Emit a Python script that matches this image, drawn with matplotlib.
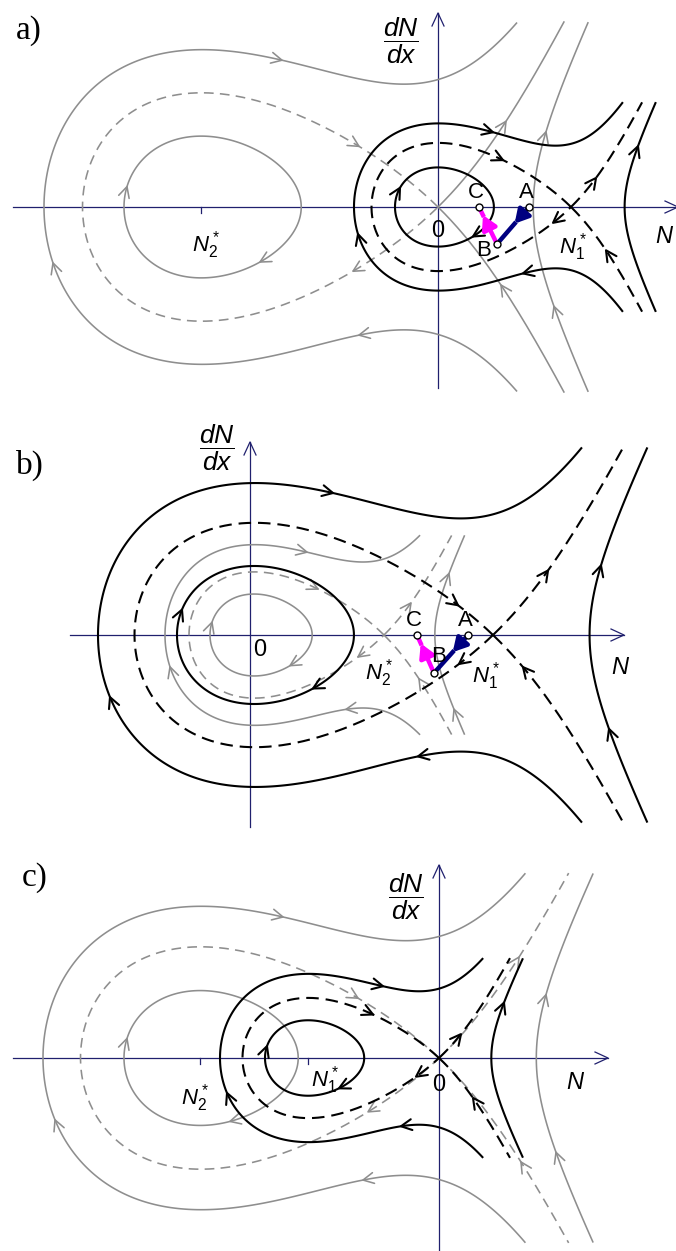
import numpy as np
import matplotlib
matplotlib.use('Agg')
import matplotlib.pyplot as plt

plt.rcParams['font.family'] = ['Liberation Sans', 'DejaVu Sans']
plt.rcParams['mathtext.fontset'] = 'custom'
plt.rcParams['mathtext.rm'] = 'Liberation Sans'
plt.rcParams['mathtext.it'] = 'Liberation Sans:italic'
plt.rcParams['lines.scale_dashes'] = False

W, H = 676, 1251

# ---- the two systems in every panel (a, b, c); N and dN/dx in plot units ----
black_centre = [0, 4, -131]
black_saddle = [133, 243, 0]
black_loop_h = [64, 112, 60]        # height of the separatrix loop above the centre
black_inner = [-43, -73, -174]      # N where the inner orbit meets the axis
black_outer = [-84, -152, -219]     # N where the outer orbit meets the axis
black_clip = [105, 188, 100]        # |dN/dx| where the trajectories stop

gray_centre = [-237, 4, -239]
gray_saddle = [0, 134, 0]
gray_loop_h = [114, 63, 111]
gray_inner = [-314, -40, -315]
gray_outer = [-394, -85, -396]
gray_clip = [185, 100, 185]

# direction marks: (N, orbit: 0 inner / 1 separatrix / 2 outer, sign of dN/dx)
marks_black_a = [(55, 2, 1), (-80, 2, -1), (85, 2, -1), (65, 1, 1), (115, 1, -1),
                 (-38, 0, 1), (35, 0, -1), (158, 1, 1), (168, 1, -1), (200, 0, 1)]
marks_gray_a = [(-156, 2, 1), (-311, 0, 1), (-178, 0, -1), (-385, 2, -1), (-79, 1, 1),
                (-85, 1, -1), (68, 1, 1), (63, 1, -1), (108, 0, 1), (116, 0, -1), (-79, 2, -1)]
marks_black_b = [(83, 2, 1), (-140, 2, -1), (168, 2, -1), (208, 1, 1), (209, 1, -1),
                 (-68, 0, 1), (63, 0, -1), (298, 1, 1), (273, 1, -1), (351, 0, 1), (359, 0, -1)]
marks_gray_b = [(57, 2, 1), (-80, 2, -1), (96, 2, -1), (68, 1, 1), (108, 1, -1),
                (-38, 0, 1), (40, 0, -1), (161, 1, 1), (169, 1, -1), (199, 0, 1), (204, 0, -1)]
marks_black_c = [(-56, 2, 1), (-212, 2, -1), (-38, 2, -1), (-66, 1, 1), (-23, 1, -1),
                 (-172, 0, 1), (-100, 0, -1), (22, 1, 1), (34, 1, -1), (65, 0, 1)]
marks_gray_c = [(-156, 2, 1), (-384, 2, -1), (-76, 2, -1), (-312, 0, 1), (-209, 0, -1),
                (-81, 1, 1), (-71, 1, -1), (80, 1, 1), (82, 1, -1), (107, 0, 1), (117, 0, -1)]

# points A, B, C of the transition (panels a and b)
abc_N = [[91, 59, 41], [218, 184, 167]]
abc_P = [[0, -37, 0], [0, -38, 0]]

BLACK = 'black'
GRAY = '#8e8e8e'
AXIS = '#20206e'
STRETCH = 0.6     # extra vertical opening of the sketch beyond the saddle


def chevron(ax, x, y, d, color, lw, z, size=12, spread=27):
    pts = []
    for sg in (1, -1):
        ang = np.radians(sg * spread)
        bx, by = -d[0], -d[1]
        wx = bx * np.cos(ang) - by * np.sin(ang)
        wy = bx * np.sin(ang) + by * np.cos(ang)
        pts.append((x + size * wx, y + size * wy))
    ax.plot([pts[0][0], x, pts[1][0]], [pts[0][1], y, pts[1][1]],
            color=color, lw=lw, zorder=z, solid_capstyle='round')


def draw_system(ax, c, s, h, inner, outer, clip, marks, color, lw, dash, z,
                solid_branches=False):
    d_cs = s - c
    a = 3.0 * h ** 2 / d_cs ** 3
    L = 0.2 * d_cs
    shift = 0.17 * d_cs

    def V(n):
        return -a * (n ** 3 / 3 - (c + s) * n ** 2 / 2 + c * s * n)

    def F(n):
        return a * (n - c) * (n - s)

    def sig(n):
        return 1.0 / (1.0 + np.exp(-(n - s - shift) / L))

    def m(n):
        return 1 + STRETCH * sig(n)

    def dm(n):
        g = sig(n)
        return STRETCH * g * (1 - g) / L

    x0, x1 = ax.get_xlim()
    n = np.linspace(x0, x1, 1400)
    q = np.linspace(-clip, clip, 900)
    NN, QQ = np.meshgrid(n, q)
    YY = QQ * m(NN)
    E = np.ma.masked_where(np.abs(YY) > clip, QQ ** 2 / 2 + V(NN))
    ax.contour(NN, YY, E, levels=sorted([V(inner), V(outer)]), colors=color,
               linewidths=lw, linestyles='solid', zorder=z)

    # separatrix through the saddle
    nl = (3 * c - s) / 2.0
    t = np.linspace(0, np.sqrt(x1 + 60 - nl), 3000)
    nn = nl + t ** 2
    up = (s - nn) * np.sqrt(2 * a * (nn - nl) / 3) * m(nn)
    loop = nn <= s
    lx = np.concatenate([nn[loop][::-1], nn[loop]])
    ly = np.concatenate([up[loop][::-1], -up[loop]])
    ax.plot(lx, ly, color=color, lw=lw, dashes=dash, zorder=z)
    br = nn >= s
    for sg in (1, -1):
        by = sg * up[br]
        by = np.where(np.abs(by) <= clip, by, np.nan)
        if solid_branches:
            ax.plot(nn[br], by, color=color, lw=lw, zorder=z)
        else:
            ax.plot(nn[br], by, color=color, lw=lw, dashes=dash, zorder=z)

    levels = [V(inner), V(s), V(outer)]
    for n0, lev, sg in marks:
        p0 = sg * np.sqrt(max(2 * (levels[lev] - V(n0)), 0.0))
        d = np.array([p0, F(n0) * m(n0) + p0 ** 2 * dm(n0)])
        d = d / np.hypot(d[0], d[1])
        chevron(ax, n0, p0 * m(n0), d, color, lw, z)


def panel(top, bottom, ox, oy):
    ax = fig.add_axes([0, 1 - bottom / H, 1, (bottom - top) / H])
    ax.set_xlim(-ox, W - ox)
    ax.set_ylim(oy - bottom, oy - top)
    ax.axis('off')
    return ax


def axes_lines(ax, xs, xe, yb, yt):
    ax.plot([xs, xe], [0, 0], color=AXIS, lw=0.9, zorder=1)
    ax.plot([0, 0], [yb, yt], color=AXIS, lw=0.9, zorder=1)
    ax.plot([xe - 13, xe, xe - 13], [6, 0, -6], color=AXIS, lw=0.9, zorder=1)
    ax.plot([-6, 0, 6], [yt - 13, yt, yt - 13], color=AXIS, lw=0.9, zorder=1)


def transition(ax, Ns, Ps, b_off):
    (xa, xb, xc), (ya, yb, yc) = Ns, Ps
    style = '-|>,head_length=0.8,head_width=0.45'
    ma = (xa + 0.45 * (xb - xa), ya + 0.45 * (yb - ya))
    ax.annotate('', xy=ma, xytext=(xa, ya), zorder=5,
                arrowprops=dict(arrowstyle=style, color='#000080', lw=3.2,
                                mutation_scale=10, shrinkA=0, shrinkB=0))
    ax.plot([ma[0], xb], [ma[1], yb], color='#000080', lw=3.2, zorder=5)
    mc = (xb + 0.78 * (xc - xb), yb + 0.78 * (yc - yb))
    ax.annotate('', xy=mc, xytext=(xb, yb), zorder=5,
                arrowprops=dict(arrowstyle=style, color='#ff00ff', lw=3.2,
                                mutation_scale=10, shrinkA=0, shrinkB=0))
    ax.plot([mc[0], xc], [mc[1], yc], color='#ff00ff', lw=3.2, zorder=5)
    ax.plot(Ns, Ps, 'o', ms=5, mfc='white', mec='black', mew=1, zorder=6, lw=0)
    ax.text(xa - 3, ya + 14, 'A', fontsize=16, ha='center', va='center', zorder=7)
    ax.text(xc - 3, yc + 14, 'C', fontsize=16, ha='center', va='center', zorder=7)
    ax.text(xb + b_off[0], yb + b_off[1], 'B', fontsize=16, ha='center', va='center',
            zorder=7)


fig = plt.figure(figsize=(W / 100, H / 100), dpi=100)
fig.patch.set_facecolor('white')

black_marks = [marks_black_a, marks_black_b, marks_black_c]
gray_marks = [marks_gray_a, marks_gray_b, marks_gray_c]
frames = [(0, 405, 438, 207), (405, 835, 250, 635), (835, 1251, 439, 1058)]
axs = [panel(*f) for f in frames]

for i, ax in enumerate(axs):
    draw_system(ax, gray_centre[i], gray_saddle[i], gray_loop_h[i], gray_inner[i],
                gray_outer[i], gray_clip[i], gray_marks[i], GRAY, 1.15, (7, 4.5), 2,
                solid_branches=(i == 0))
    draw_system(ax, black_centre[i], black_saddle[i], black_loop_h[i], black_inner[i],
                black_outer[i], black_clip[i], black_marks[i], BLACK, 1.5, (9, 5), 3)

frac = dict(fontsize=19, ha='center', va='center')
lab = dict(fontsize=16, ha='center', va='center')
big = dict(fontsize=17, ha='center', va='center')
tag = dict(family='Liberation Serif', fontsize=24, ha='left', va='center')

# panel a
ax = axs[0]
axes_lines(ax, -425, 240, -181, 194)
ax.plot([gray_centre[0]] * 2, [0, -6], color=AXIS, lw=0.9)
ax.text(-422, 176, 'a)', **tag)
ax.text(-37, 166, r'$\dfrac{dN}{dx}$', **frac)
ax.text(0, -24, '0', **big)
ax.text(-232, -38, r'$N_2^*$', **lab)
ax.text(135, -40, r'$N_1^*$', **lab)
ax.text(236, -30, r'$N$', fontsize=17, ha='right', va='center')
transition(ax, abc_N[0], abc_P[0], (-13, -7))

# panel b
ax = axs[1]
axes_lines(ax, -180, 374, -192, 193)
ax.text(-234, 170, 'b)', **tag)
ax.text(-33, 187, r'$\dfrac{dN}{dx}$', **frac)
ax.text(10, -15, '0', **big)
ax.text(129, -38, r'$N_2^*$', **lab)
ax.text(236, -41, r'$N_1^*$', **lab)
ax.text(371, -33, r'$N$', **big)
transition(ax, abc_N[1], abc_P[1], (5, 17))

# panel c
ax = axs[2]
axes_lines(ax, -426, 169, -192, 193)
ax.plot([gray_centre[2]] * 2, [0, -6], color=AXIS, lw=0.9)
ax.plot([black_centre[2]] * 2, [0, -6], color=AXIS, lw=0.9)
ax.text(-417, 180, 'c)', **tag)
ax.text(-33, 161, r'$\dfrac{dN}{dx}$', **frac)
ax.text(0, -27, '0', **big)
ax.text(-244, -40, r'$N_2^*$', **lab)
ax.text(-114, -22, r'$N_1^*$', **lab)
ax.text(137, -25, r'$N$', **big)

fig.savefig('out.png', dpi=100)
